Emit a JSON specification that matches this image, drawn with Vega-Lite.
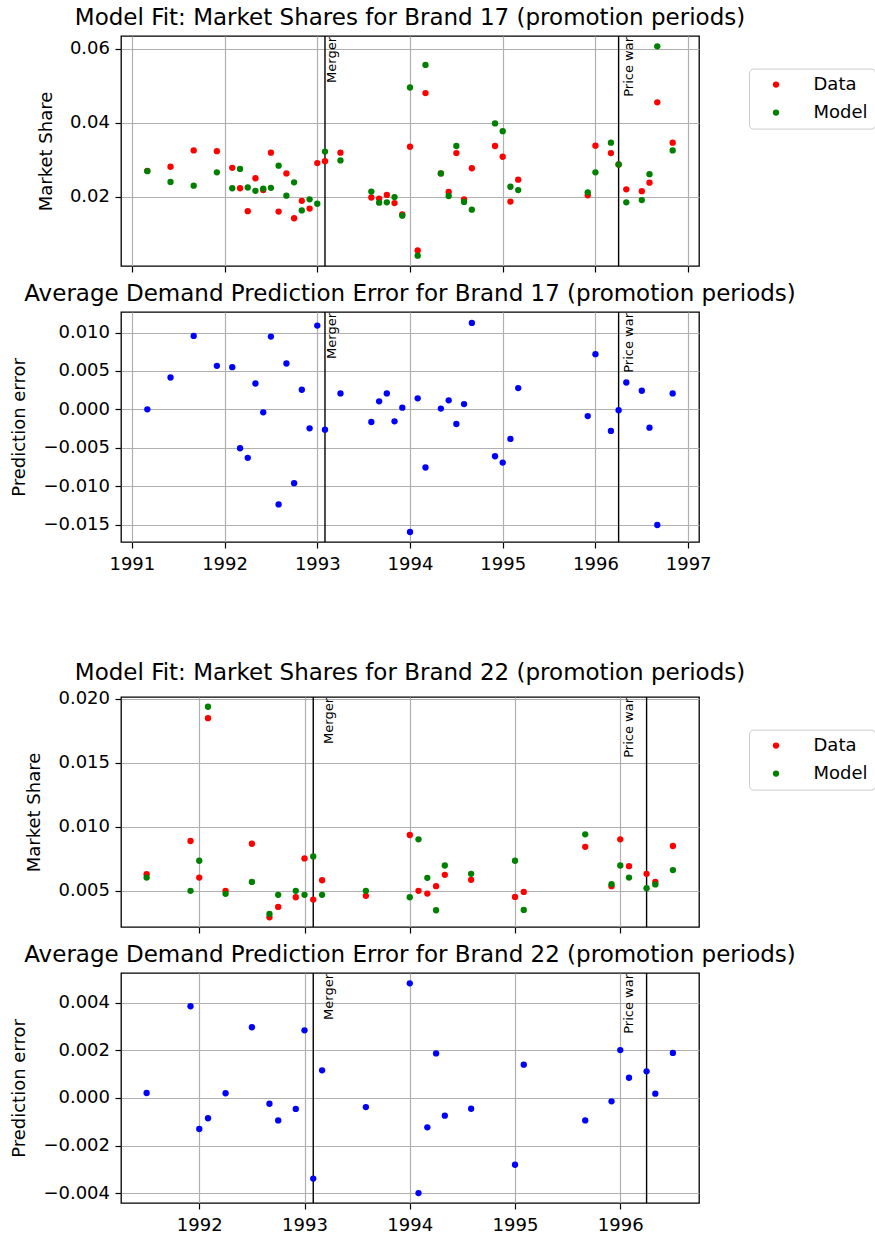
{
  "$schema": "https://vega.github.io/schema/vega-lite/v6.json",
  "autosize": {"type": "none"},
  "padding": {"left": 121, "top": 36, "right": 754, "bottom": 1203},
  "background": "white",
  "datasets": {
    "shares17": [
      {"t": 1991.167, "series": "Data", "share": 0.0270},
      {"t": 1991.417, "series": "Data", "share": 0.0281},
      {"t": 1991.667, "series": "Data", "share": 0.0325},
      {"t": 1991.917, "series": "Data", "share": 0.0323},
      {"t": 1992.083, "series": "Data", "share": 0.0278},
      {"t": 1992.167, "series": "Data", "share": 0.0223},
      {"t": 1992.25, "series": "Data", "share": 0.0161},
      {"t": 1992.333, "series": "Data", "share": 0.0250},
      {"t": 1992.417, "series": "Data", "share": 0.0218},
      {"t": 1992.5, "series": "Data", "share": 0.0319},
      {"t": 1992.583, "series": "Data", "share": 0.0160},
      {"t": 1992.667, "series": "Data", "share": 0.0263},
      {"t": 1992.75, "series": "Data", "share": 0.0142},
      {"t": 1992.833, "series": "Data", "share": 0.0189},
      {"t": 1992.917, "series": "Data", "share": 0.0168},
      {"t": 1993.0, "series": "Data", "share": 0.0291},
      {"t": 1993.083, "series": "Data", "share": 0.0296},
      {"t": 1993.25, "series": "Data", "share": 0.0319},
      {"t": 1993.583, "series": "Data", "share": 0.0198},
      {"t": 1993.667, "series": "Data", "share": 0.0195},
      {"t": 1993.75, "series": "Data", "share": 0.0205},
      {"t": 1993.833, "series": "Data", "share": 0.0183},
      {"t": 1993.917, "series": "Data", "share": 0.0152},
      {"t": 1994.0, "series": "Data", "share": 0.0335},
      {"t": 1994.083, "series": "Data", "share": 0.0055},
      {"t": 1994.167, "series": "Data", "share": 0.0480},
      {"t": 1994.333, "series": "Data", "share": 0.0263},
      {"t": 1994.417, "series": "Data", "share": 0.0213},
      {"t": 1994.5, "series": "Data", "share": 0.0318},
      {"t": 1994.583, "series": "Data", "share": 0.0193},
      {"t": 1994.667, "series": "Data", "share": 0.0277},
      {"t": 1994.917, "series": "Data", "share": 0.0337},
      {"t": 1995.0, "series": "Data", "share": 0.0308},
      {"t": 1995.083, "series": "Data", "share": 0.0187},
      {"t": 1995.167, "series": "Data", "share": 0.0246},
      {"t": 1995.917, "series": "Data", "share": 0.0204},
      {"t": 1996.0, "series": "Data", "share": 0.0338},
      {"t": 1996.167, "series": "Data", "share": 0.0318},
      {"t": 1996.25, "series": "Data", "share": 0.0287},
      {"t": 1996.333, "series": "Data", "share": 0.0220},
      {"t": 1996.5, "series": "Data", "share": 0.0215},
      {"t": 1996.583, "series": "Data", "share": 0.0238},
      {"t": 1996.667, "series": "Data", "share": 0.0455},
      {"t": 1996.833, "series": "Data", "share": 0.0346},
      {"t": 1991.167, "series": "Model", "share": 0.0269},
      {"t": 1991.417, "series": "Model", "share": 0.0240},
      {"t": 1991.667, "series": "Model", "share": 0.0230},
      {"t": 1991.917, "series": "Model", "share": 0.0266},
      {"t": 1992.083, "series": "Model", "share": 0.0223},
      {"t": 1992.167, "series": "Model", "share": 0.0275},
      {"t": 1992.25, "series": "Model", "share": 0.0225},
      {"t": 1992.333, "series": "Model", "share": 0.0216},
      {"t": 1992.417, "series": "Model", "share": 0.0222},
      {"t": 1992.5, "series": "Model", "share": 0.0224},
      {"t": 1992.583, "series": "Model", "share": 0.0284},
      {"t": 1992.667, "series": "Model", "share": 0.0203},
      {"t": 1992.75, "series": "Model", "share": 0.0239},
      {"t": 1992.833, "series": "Model", "share": 0.0163},
      {"t": 1992.917, "series": "Model", "share": 0.0193},
      {"t": 1993.0, "series": "Model", "share": 0.0181},
      {"t": 1993.083, "series": "Model", "share": 0.0322},
      {"t": 1993.25, "series": "Model", "share": 0.0298},
      {"t": 1993.583, "series": "Model", "share": 0.0214},
      {"t": 1993.667, "series": "Model", "share": 0.0184},
      {"t": 1993.75, "series": "Model", "share": 0.0185},
      {"t": 1993.833, "series": "Model", "share": 0.0199},
      {"t": 1993.917, "series": "Model", "share": 0.0149},
      {"t": 1994.0, "series": "Model", "share": 0.0495},
      {"t": 1994.083, "series": "Model", "share": 0.0041},
      {"t": 1994.167, "series": "Model", "share": 0.0556},
      {"t": 1994.333, "series": "Model", "share": 0.0263},
      {"t": 1994.417, "series": "Model", "share": 0.0202},
      {"t": 1994.5, "series": "Model", "share": 0.0337},
      {"t": 1994.583, "series": "Model", "share": 0.0186},
      {"t": 1994.667, "series": "Model", "share": 0.0165},
      {"t": 1994.917, "series": "Model", "share": 0.0398},
      {"t": 1995.0, "series": "Model", "share": 0.0377},
      {"t": 1995.083, "series": "Model", "share": 0.0227},
      {"t": 1995.167, "series": "Model", "share": 0.0218},
      {"t": 1995.917, "series": "Model", "share": 0.0212},
      {"t": 1996.0, "series": "Model", "share": 0.0266},
      {"t": 1996.167, "series": "Model", "share": 0.0346},
      {"t": 1996.25, "series": "Model", "share": 0.0287},
      {"t": 1996.333, "series": "Model", "share": 0.0185},
      {"t": 1996.5, "series": "Model", "share": 0.0191},
      {"t": 1996.583, "series": "Model", "share": 0.0261},
      {"t": 1996.667, "series": "Model", "share": 0.0606},
      {"t": 1996.833, "series": "Model", "share": 0.0325}
    ],
    "err17": [
      {"t": 1991.167, "error": 0.0},
      {"t": 1991.417, "error": 0.00415},
      {"t": 1991.667, "error": 0.00956},
      {"t": 1991.917, "error": 0.00567},
      {"t": 1992.083, "error": 0.00549},
      {"t": 1992.167, "error": -0.00506},
      {"t": 1992.25, "error": -0.00631},
      {"t": 1992.333, "error": 0.00337},
      {"t": 1992.417, "error": -0.00039},
      {"t": 1992.5, "error": 0.00947},
      {"t": 1992.583, "error": -0.01237},
      {"t": 1992.667, "error": 0.00597},
      {"t": 1992.75, "error": -0.0096},
      {"t": 1992.833, "error": 0.00255},
      {"t": 1992.917, "error": -0.00247},
      {"t": 1993.0, "error": 0.0109},
      {"t": 1993.083, "error": -0.00264},
      {"t": 1993.25, "error": 0.00208},
      {"t": 1993.583, "error": -0.00164},
      {"t": 1993.667, "error": 0.00104},
      {"t": 1993.75, "error": 0.00208},
      {"t": 1993.833, "error": -0.00156},
      {"t": 1993.917, "error": 0.00022},
      {"t": 1994.0, "error": -0.01596},
      {"t": 1994.083, "error": 0.00143},
      {"t": 1994.167, "error": -0.00757},
      {"t": 1994.333, "error": 0.0001},
      {"t": 1994.417, "error": 0.00117},
      {"t": 1994.5, "error": -0.0019},
      {"t": 1994.583, "error": 0.00069},
      {"t": 1994.667, "error": 0.01125},
      {"t": 1994.917, "error": -0.0061},
      {"t": 1995.0, "error": -0.00692},
      {"t": 1995.083, "error": -0.00385},
      {"t": 1995.167, "error": 0.00277},
      {"t": 1995.917, "error": -0.00087},
      {"t": 1996.0, "error": 0.00718},
      {"t": 1996.167, "error": -0.00281},
      {"t": 1996.25, "error": -0.0001},
      {"t": 1996.333, "error": 0.0035},
      {"t": 1996.5, "error": 0.00242},
      {"t": 1996.583, "error": -0.00238},
      {"t": 1996.667, "error": -0.01505},
      {"t": 1996.833, "error": 0.00208}
    ],
    "shares22": [
      {"t": 1991.5, "series": "Data", "share": 0.0063},
      {"t": 1991.917, "series": "Data", "share": 0.00889},
      {"t": 1992.0, "series": "Data", "share": 0.00604},
      {"t": 1992.083, "series": "Data", "share": 0.01848},
      {"t": 1992.25, "series": "Data", "share": 0.0050},
      {"t": 1992.5, "series": "Data", "share": 0.00868},
      {"t": 1992.667, "series": "Data", "share": 0.00294},
      {"t": 1992.75, "series": "Data", "share": 0.00375},
      {"t": 1992.917, "series": "Data", "share": 0.0045},
      {"t": 1993.0, "series": "Data", "share": 0.00753},
      {"t": 1993.083, "series": "Data", "share": 0.00432},
      {"t": 1993.167, "series": "Data", "share": 0.00583},
      {"t": 1993.583, "series": "Data", "share": 0.00461},
      {"t": 1994.0, "series": "Data", "share": 0.00936},
      {"t": 1994.083, "series": "Data", "share": 0.0050},
      {"t": 1994.167, "series": "Data", "share": 0.00479},
      {"t": 1994.25, "series": "Data", "share": 0.00537},
      {"t": 1994.333, "series": "Data", "share": 0.00625},
      {"t": 1994.583, "series": "Data", "share": 0.00586},
      {"t": 1995.0, "series": "Data", "share": 0.00453},
      {"t": 1995.083, "series": "Data", "share": 0.00492},
      {"t": 1995.667, "series": "Data", "share": 0.00844},
      {"t": 1995.917, "series": "Data", "share": 0.00537},
      {"t": 1996.0, "series": "Data", "share": 0.00902},
      {"t": 1996.083, "series": "Data", "share": 0.00693},
      {"t": 1996.25, "series": "Data", "share": 0.00633},
      {"t": 1996.333, "series": "Data", "share": 0.0057},
      {"t": 1996.5, "series": "Data", "share": 0.0085},
      {"t": 1991.5, "series": "Model", "share": 0.00604},
      {"t": 1991.917, "series": "Model", "share": 0.0050},
      {"t": 1992.0, "series": "Model", "share": 0.00735},
      {"t": 1992.083, "series": "Model", "share": 0.01937},
      {"t": 1992.25, "series": "Model", "share": 0.00477},
      {"t": 1992.5, "series": "Model", "share": 0.0057},
      {"t": 1992.667, "series": "Model", "share": 0.0032},
      {"t": 1992.75, "series": "Model", "share": 0.00469},
      {"t": 1992.917, "series": "Model", "share": 0.0050},
      {"t": 1993.0, "series": "Model", "share": 0.00469},
      {"t": 1993.083, "series": "Model", "share": 0.00769},
      {"t": 1993.167, "series": "Model", "share": 0.00469},
      {"t": 1993.583, "series": "Model", "share": 0.0050},
      {"t": 1994.0, "series": "Model", "share": 0.0045},
      {"t": 1994.083, "series": "Model", "share": 0.00902},
      {"t": 1994.167, "series": "Model", "share": 0.00602},
      {"t": 1994.25, "series": "Model", "share": 0.00349},
      {"t": 1994.333, "series": "Model", "share": 0.00698},
      {"t": 1994.583, "series": "Model", "share": 0.00633},
      {"t": 1995.0, "series": "Model", "share": 0.00735},
      {"t": 1995.083, "series": "Model", "share": 0.00351},
      {"t": 1995.667, "series": "Model", "share": 0.00941},
      {"t": 1995.917, "series": "Model", "share": 0.00552},
      {"t": 1996.0, "series": "Model", "share": 0.00698},
      {"t": 1996.083, "series": "Model", "share": 0.00604},
      {"t": 1996.25, "series": "Model", "share": 0.00521},
      {"t": 1996.333, "series": "Model", "share": 0.0055},
      {"t": 1996.5, "series": "Model", "share": 0.00662}
    ],
    "err22": [
      {"t": 1991.5, "error": 0.00021},
      {"t": 1991.917, "error": 0.00385},
      {"t": 1992.0, "error": -0.0013},
      {"t": 1992.083, "error": -0.00085},
      {"t": 1992.25, "error": 0.0002},
      {"t": 1992.5, "error": 0.00297},
      {"t": 1992.667, "error": -0.00024},
      {"t": 1992.75, "error": -0.00094},
      {"t": 1992.917, "error": -0.00046},
      {"t": 1993.0, "error": 0.00284},
      {"t": 1993.083, "error": -0.00338},
      {"t": 1993.167, "error": 0.00116},
      {"t": 1993.583, "error": -0.00038},
      {"t": 1994.0, "error": 0.00481},
      {"t": 1994.083, "error": -0.00399},
      {"t": 1994.167, "error": -0.00123},
      {"t": 1994.25, "error": 0.00187},
      {"t": 1994.333, "error": -0.00074},
      {"t": 1994.583, "error": -0.00045},
      {"t": 1995.0, "error": -0.0028},
      {"t": 1995.083, "error": 0.0014},
      {"t": 1995.667, "error": -0.00094},
      {"t": 1995.917, "error": -0.00014},
      {"t": 1996.0, "error": 0.00201},
      {"t": 1996.083, "error": 0.00085},
      {"t": 1996.25, "error": 0.00112},
      {"t": 1996.333, "error": 0.00018},
      {"t": 1996.5, "error": 0.00189}
    ],
    "events17": [
      {"event": "Merger", "date": 1993.083, "label_date": 1993.092},
      {"event": "Price war", "date": 1996.25, "label_date": 1996.299}
    ],
    "events22": [
      {"event": "Merger", "date": 1993.083, "label_date": 1993.171},
      {"event": "Price war", "date": 1996.25, "label_date": 1996.028}
    ]
  },
  "vconcat": [
    {
      "bounds": "flush",
      "spacing": 46,
      "resolve": {"scale": {"color": "independent"}},
      "vconcat": [
        {
          "width": 578,
          "height": 230,
          "title": {"text": "Model Fit: Market Shares for Brand 17 (promotion periods)"},
          "layer": [
            {
              "data": {"name": "events17"},
              "mark": {"type": "rule", "color": "black", "strokeWidth": 1.4},
              "encoding": {
                "x": {"field": "date", "type": "quantitative", "scale": {"domain": [1990.883, 1997.117], "nice": false, "zero": false},
                      "axis": {"labels": false, "title": null, "values": [1991, 1992, 1993, 1994, 1995, 1996, 1997]}}
              }
            },
            {
              "data": {"name": "shares17"},
              "mark": {"type": "circle", "size": 40, "opacity": 1},
              "encoding": {
                "x": {"field": "t", "type": "quantitative"},
                "y": {"field": "share", "type": "quantitative", "scale": {"domain": [0.0013, 0.0634], "nice": false, "zero": false},
                      "axis": {"values": [0.02, 0.04, 0.06], "format": ".2f", "title": "Market Share"}},
                "color": {"field": "series", "type": "nominal",
                          "scale": {"domain": ["Data", "Model"], "range": ["#ff0000", "#008000"]},
                          "legend": {"title": null, "orient": "none", "legendX": 628, "legendY": 32.6}}
              }
            },
            {
              "data": {"name": "events17"},
              "mark": {"type": "text", "angle": 270, "align": "right", "baseline": "top", "fontSize": 13, "color": "black", "dx": -1},
              "encoding": {
                "x": {"field": "label_date", "type": "quantitative"},
                "y": {"datum": 0.0634},
                "text": {"field": "event"}
              }
            }
          ]
        },
        {
          "width": 578,
          "height": 230,
          "title": {"text": "Average Demand Prediction Error for Brand 17 (promotion periods)"},
          "layer": [
            {
              "data": {"name": "events17"},
              "mark": {"type": "rule", "color": "black", "strokeWidth": 1.4},
              "encoding": {
                "x": {"field": "date", "type": "quantitative", "scale": {"domain": [1990.883, 1997.117], "nice": false, "zero": false},
                      "axis": {"title": null, "format": "d", "values": [1991, 1992, 1993, 1994, 1995, 1996, 1997]}}
              }
            },
            {
              "data": {"name": "err17"},
              "mark": {"type": "circle", "size": 40, "opacity": 1, "color": "#0000ff"},
              "encoding": {
                "x": {"field": "t", "type": "quantitative"},
                "y": {"field": "error", "type": "quantitative", "scale": {"domain": [-0.01726, 0.01267], "nice": false, "zero": false},
                      "axis": {"values": [-0.015, -0.01, -0.005, 0, 0.005, 0.01], "format": ".3f", "title": "Prediction error"}}
              }
            },
            {
              "data": {"name": "events17"},
              "mark": {"type": "text", "angle": 270, "align": "right", "baseline": "top", "fontSize": 13, "color": "black", "dx": -1},
              "encoding": {
                "x": {"field": "label_date", "type": "quantitative"},
                "y": {"datum": 0.01267},
                "text": {"field": "event"}
              }
            }
          ]
        }
      ]
    },
    {
      "bounds": "flush",
      "spacing": 46,
      "resolve": {"scale": {"color": "independent"}},
      "vconcat": [
        {
          "width": 578,
          "height": 230,
          "title": {"text": "Model Fit: Market Shares for Brand 22 (promotion periods)"},
          "layer": [
            {
              "data": {"name": "events22"},
              "mark": {"type": "rule", "color": "black", "strokeWidth": 1.4},
              "encoding": {
                "x": {"field": "date", "type": "quantitative", "scale": {"domain": [1991.2565, 1996.748], "nice": false, "zero": false},
                      "axis": {"labels": false, "title": null, "values": [1992, 1993, 1994, 1995, 1996]}}
              }
            },
            {
              "data": {"name": "shares22"},
              "mark": {"type": "circle", "size": 40, "opacity": 1},
              "encoding": {
                "x": {"field": "t", "type": "quantitative"},
                "y": {"field": "share", "type": "quantitative", "scale": {"domain": [0.00218, 0.02013], "nice": false, "zero": false},
                      "axis": {"values": [0.005, 0.01, 0.015, 0.02], "format": ".3f", "title": "Market Share"}},
                "color": {"field": "series", "type": "nominal",
                          "scale": {"domain": ["Data", "Model"], "range": ["#ff0000", "#008000"]},
                          "legend": {"title": null, "orient": "none", "legendX": 628, "legendY": 32.6}}
              }
            },
            {
              "data": {"name": "events22"},
              "mark": {"type": "text", "angle": 270, "align": "right", "baseline": "top", "fontSize": 13, "color": "black", "dx": -1},
              "encoding": {
                "x": {"field": "label_date", "type": "quantitative"},
                "y": {"datum": 0.02013},
                "text": {"field": "event"}
              }
            }
          ]
        },
        {
          "width": 578,
          "height": 230,
          "title": {"text": "Average Demand Prediction Error for Brand 22 (promotion periods)"},
          "layer": [
            {
              "data": {"name": "events22"},
              "mark": {"type": "rule", "color": "black", "strokeWidth": 1.4},
              "encoding": {
                "x": {"field": "date", "type": "quantitative", "scale": {"domain": [1991.2565, 1996.748], "nice": false, "zero": false},
                      "axis": {"title": null, "format": "d", "values": [1992, 1993, 1994, 1995, 1996]}}
              }
            },
            {
              "data": {"name": "err22"},
              "mark": {"type": "circle", "size": 40, "opacity": 1, "color": "#0000ff"},
              "encoding": {
                "x": {"field": "t", "type": "quantitative"},
                "y": {"field": "error", "type": "quantitative", "scale": {"domain": [-0.004406, 0.005245], "nice": false, "zero": false},
                      "axis": {"values": [-0.004, -0.002, 0, 0.002, 0.004], "format": ".3f", "title": "Prediction error"}}
              }
            },
            {
              "data": {"name": "events22"},
              "mark": {"type": "text", "angle": 270, "align": "right", "baseline": "top", "fontSize": 13, "color": "black", "dx": -1},
              "encoding": {
                "x": {"field": "label_date", "type": "quantitative"},
                "y": {"datum": 0.005245},
                "text": {"field": "event"}
              }
            }
          ]
        }
      ]
    }
  ],
  "spacing": 661,
  "bounds": "flush",
  "resolve": {"scale": {"color": "independent"}},
  "config": {
    "font": "DejaVu Sans",
    "view": {"stroke": "black", "strokeWidth": 1.3},
    "axis": {
      "domain": false,
      "grid": true,
      "gridColor": "#b0b0b0",
      "gridWidth": 1.2,
      "tickColor": "black",
      "tickSize": 6,
      "tickWidth": 1.2,
      "labelFont": "DejaVu Sans",
      "labelFontSize": 18,
      "labelColor": "black",
      "labelFlush": false,
      "labelOverlap": false,
      "titleFont": "DejaVu Sans",
      "titleFontSize": 18,
      "titleFontWeight": "normal",
      "titleColor": "black"
    },
    "axisX": {"labelPadding": 7},
    "axisY": {"labelPadding": 5.5, "titlePadding": 14.3},
    "title": {"font": "DejaVu Sans", "fontSize": 23, "fontWeight": "normal", "color": "black", "anchor": "middle", "frame": "group", "baseline": "alphabetic", "offset": 5},
    "text": {"font": "DejaVu Sans"},
    "legend": {
      "padding": 7,
      "strokeColor": "#cccccc",
      "fillColor": "white",
      "cornerRadius": 4,
      "symbolType": "circle",
      "symbolSize": 40,
      "symbolStrokeWidth": 0,
      "labelFont": "DejaVu Sans",
      "labelFontSize": 18,
      "labelColor": "black",
      "symbolOffset": 11,
      "labelOffset": 28.5,
      "rowPadding": 10
    }
  }
}
